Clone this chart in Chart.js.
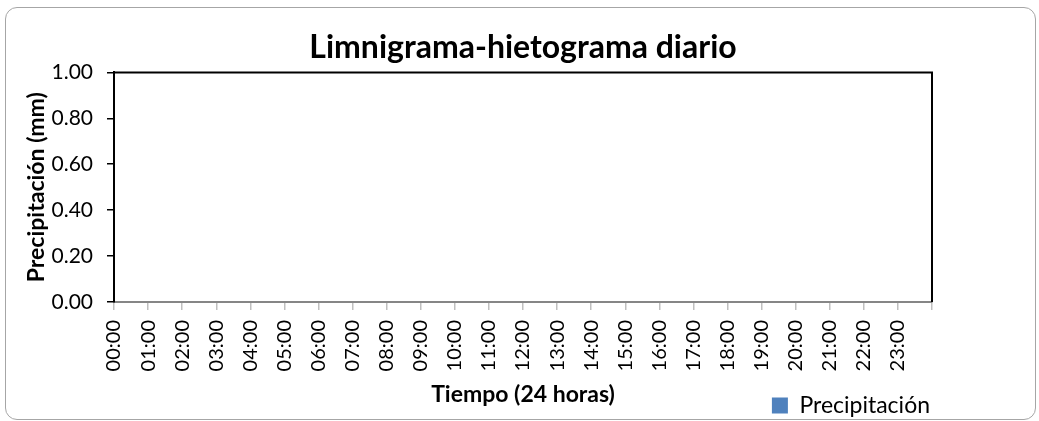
<!DOCTYPE html>
<html>
<head>
<meta charset="utf-8">
<script src="https://cdn.jsdelivr.net/npm/chart.js@4"></script>
<style>
  body { margin: 0; background: #fff; }
  #marco { position: absolute; left: 5px; top: 7px; width: 1029px; height: 411px;
           border: 1.5px solid #a6a6a6; border-radius: 12px; }
  #wrap { position: absolute; left: 0; top: 0; width: 1039px; height: 421px; }
</style>
</head>
<body>
<div id="marco"></div>
<div id="wrap"><canvas id="grafico"></canvas></div>
<script>
const horas = ['00:00','01:00','02:00','03:00','04:00','05:00','06:00','07:00','08:00','09:00','10:00','11:00',
               '12:00','13:00','14:00','15:00','16:00','17:00','18:00','19:00','20:00','21:00','22:00','23:00'];
const precipitacion = [0,0,0,0,0,0,0,0,0,0,0,0,0,0,0,0,0,0,0,0,0,0,0,0];
const yTicks = [0, 0.2, 0.4, 0.6, 0.8, 1.0];

const fuente = 'Lato, "Noto Sans", sans-serif';

// borde superior y derecho del area de trazado
const bordePlot = {
  id: 'bordePlot',
  afterDraw(chart) {
    const {ctx, chartArea: a} = chart;
    ctx.save();
    ctx.strokeStyle = '#000';
    ctx.lineWidth = 2;
    ctx.beginPath();
    ctx.moveTo(a.left, a.top);
    ctx.lineTo(a.right, a.top);
    ctx.lineTo(a.right, a.bottom);
    ctx.stroke();
    ctx.restore();
  }
};

new Chart(document.getElementById('grafico'), {
  type: 'bar',
  data: {
    datasets: [{
      label: 'Precipitación',
      data: horas.map((h, i) => ({x: i, y: precipitacion[i]})),
      backgroundColor: '#4F81BD',
      borderWidth: 0
    }]
  },
  options: {
    responsive: true,
    maintainAspectRatio: false,
    animation: false,
    layout: { padding: { left: 0, right: 107, top: 0, bottom: -6 } },
    plugins: {
      title: {
        display: true,
        fullSize: false,
        text: 'Limnigrama-hietograma diario',
        color: '#000',
        font: { family: fuente, size: 32, weight: 'bold' },
        padding: { top: 28, bottom: 6 }
      },
      legend: {
        position: 'bottom',
        align: 'end',
        labels: {
          color: '#000',
          font: { family: fuente, size: 23 },
          boxWidth: 16,
          boxHeight: 16,
          padding: 2
        }
      },
      tooltip: { enabled: false }
    },
    scales: {
      x: {
        type: 'linear',
        min: 0,
        max: 24,
        offset: false,
        afterFit(s) { s.height = 90; },
        afterBuildTicks(s) { s.ticks = horas.map((h, i) => ({value: i})).concat([{value: 24}]); },
        ticks: {
          color: '#000',
          font: { family: fuente, size: 20 },
          minRotation: 90,
          maxRotation: 90,
          padding: 10,
          callback: (v) => horas[v] || ''
        },
        grid: { drawOnChartArea: false, offset: false, color: '#bfbfbf', tickLength: 8, lineWidth: 1.5 },
        border: { color: '#868686', width: 2 },
        title: {
          display: true,
          text: 'Tiempo (24 horas)',
          color: '#000',
          font: { family: fuente, size: 23, weight: 'bold' },
          padding: { top: 0, bottom: -16 }
        }
      },
      y: {
        min: 0,
        max: 1,
        afterFit(s) { s.width = 114; },
        afterBuildTicks(s) { s.ticks = yTicks.map(v => ({value: v})); },
        ticks: {
          color: '#000',
          font: { family: fuente, size: 21 },
          padding: 14,
          callback: (v) => v.toFixed(2)
        },
        grid: { drawOnChartArea: false, color: '#000', tickLength: 7, lineWidth: 1.5 },
        border: { color: '#000', width: 2 },
        title: {
          display: true,
          text: 'Precipitación (mm)',
          color: '#000',
          font: { family: fuente, size: 23, weight: 'bold' },
          padding: { top: 23, bottom: 0 }
        }
      }
    }
  },
  plugins: [bordePlot]
});
</script>
</body>
</html>
